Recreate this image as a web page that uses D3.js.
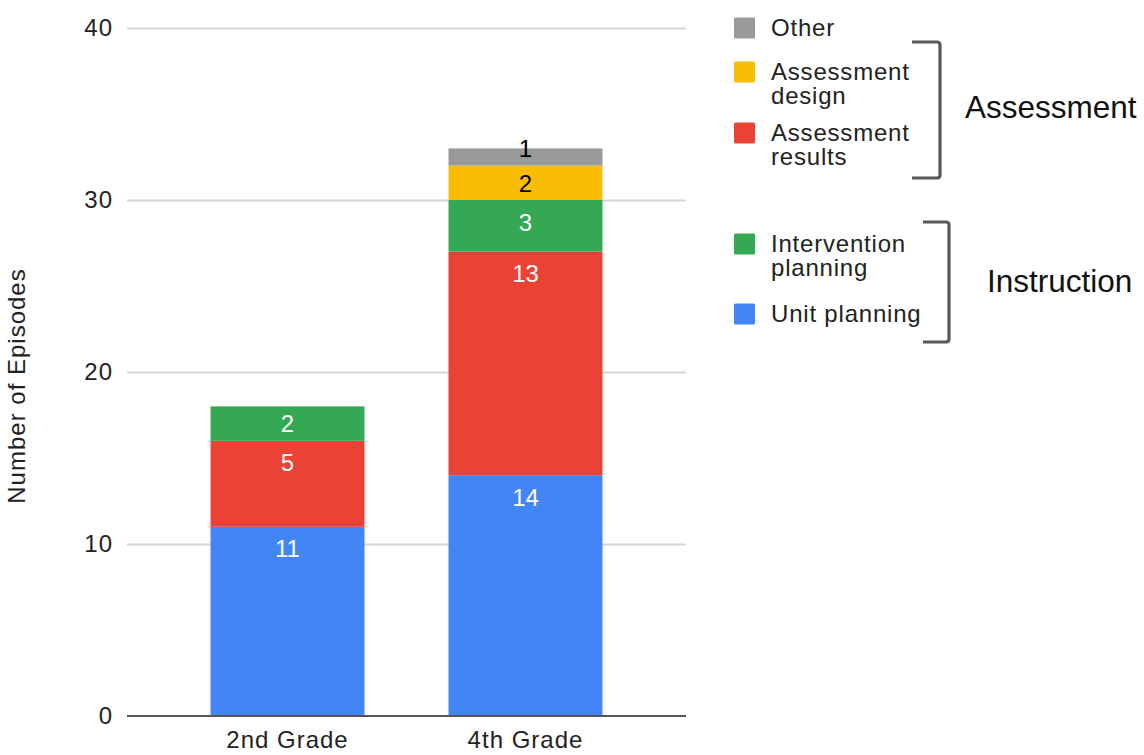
<!DOCTYPE html>
<html>
<head>
<meta charset="utf-8">
<script src="https://cdn.jsdelivr.net/npm/d3@7/dist/d3.min.js"></script>
<style>
  html, body { margin: 0; padding: 0; background: #fff; }
  svg { display: block; }
  text { font-family: Arial, "Liberation Sans", Helvetica, sans-serif; }
</style>
</head>
<body>
<svg id="chart" width="1144" height="755"></svg>
<script>
// Episodes by grade, stacked by episode type (bottom to top)
const grades = ["2nd Grade", "4th Grade"];
const seriesNames = ["Unit planning", "Assessment results", "Intervention planning", "Assessment design", "Other"];
const unitPlanning = [11, 14];
const assessmentResults = [5, 13];
const interventionPlanning = [2, 3];
const assessmentDesign = [0, 2];
const other = [0, 1];
const yTicks = [0, 10, 20, 30, 40];

const seriesColors = ["#4285F4", "#EA4335", "#34A853", "#FBBC04", "#999999"];
const labelColors = ["#ffffff", "#ffffff", "#ffffff", "#000000", "#000000"];

// Legend listing (top to bottom) and the two bracket groups
const legendOrder = ["Other", "Assessment design", "Assessment results", "Intervention planning", "Unit planning"];
const legendLines = {
  "Other": ["Other"],
  "Assessment design": ["Assessment", "design"],
  "Assessment results": ["Assessment", "results"],
  "Intervention planning": ["Intervention", "planning"],
  "Unit planning": ["Unit planning"]
};
const groupNames = ["Assessment", "Instruction"];

const seriesValues = [unitPlanning, assessmentResults, interventionPlanning, assessmentDesign, other];
const rows = grades.map((g, i) => {
  const r = { grade: g };
  seriesNames.forEach((s, k) => { r[s] = seriesValues[k][i]; });
  return r;
});

const svg = d3.select("#chart");
const plot = { left: 127, right: 686, top: 28, bottom: 716 };

const x = d3.scaleBand()
  .domain(grades)
  .range([plot.left, plot.right])
  .paddingInner(0.353)
  .paddingOuter(0.351);

const y = d3.scaleLinear()
  .domain([0, 40])
  .range([plot.bottom, plot.top]);

// Gridlines
svg.append("g")
  .selectAll("line")
  .data(yTicks.filter(t => t !== 0))
  .join("line")
  .attr("x1", plot.left)
  .attr("x2", plot.right)
  .attr("y1", d => Math.round(y(d)) + 0.5)
  .attr("y2", d => Math.round(y(d)) + 0.5)
  .attr("stroke", "#d6d6d6")
  .attr("stroke-width", 2);

// Y axis labels
const yAxis = d3.axisLeft(y).tickValues(yTicks).tickSize(0).tickPadding(14);
const yg = svg.append("g")
  .attr("transform", `translate(${plot.left},0)`)
  .call(yAxis);
yg.select(".domain").remove();
yg.selectAll("text")
  .attr("font-size", 24)
  .attr("letter-spacing", "1px")
  .attr("font-family", "Arial, 'Liberation Sans', sans-serif")
  .attr("fill", "#222");

// Stacked bars
const stack = d3.stack().keys(seriesNames);
const stacked = stack(rows);

const layers = svg.append("g")
  .selectAll("g")
  .data(stacked)
  .join("g")
  .attr("fill", (d, i) => seriesColors[i]);

layers.selectAll("rect")
  .data(d => d.map(v => ({ v, key: d.key })))
  .join("rect")
  .attr("x", d => x(d.v.data.grade))
  .attr("width", x.bandwidth())
  .attr("y", d => y(d.v[1]))
  .attr("height", d => y(d.v[0]) - y(d.v[1]));

// Baseline
svg.append("line")
  .attr("x1", plot.left)
  .attr("x2", plot.right)
  .attr("y1", y(0))
  .attr("y2", y(0))
  .attr("stroke", "#555")
  .attr("stroke-width", 2);

// Value labels inside the segments
stacked.forEach((layer, k) => {
  layer.forEach(v => {
    const val = v[1] - v[0];
    if (!val) return;
    const top = y(v[1]), bottom = y(v[0]);
    const cy = Math.min(top + 22, bottom - 17);
    svg.append("text")
      .attr("x", x(v.data.grade) + x.bandwidth() / 2)
      .attr("y", cy)
      .attr("dy", "0.36em")
      .attr("text-anchor", "middle")
      .attr("font-family", "Roboto, Arial, sans-serif")
      .attr("font-size", 24)
      .attr("fill", labelColors[k])
      .text(val);
  });
});

// Category labels
svg.append("g")
  .selectAll("text")
  .data(grades)
  .join("text")
  .attr("x", d => x(d) + x.bandwidth() / 2)
  .attr("y", 748)
  .attr("text-anchor", "middle")
  .attr("font-size", 24)
  .attr("letter-spacing", "1px")
  .attr("fill", "#222")
  .text(d => d);

// Y axis title
svg.append("text")
  .attr("transform", "translate(25,386) rotate(-90)")
  .attr("text-anchor", "middle")
  .attr("font-size", 24)
  .attr("letter-spacing", "1px")
  .attr("fill", "#222")
  .text("Number of Episodes");

// Legend: swatch plus a (possibly wrapped) label
const legendBaselines = [36, 80, 141, 252, 322];
const legend = svg.append("g");
legendOrder.forEach((name, i) => {
  const k = seriesNames.indexOf(name);
  const base = legendBaselines[i];
  legend.append("rect")
    .attr("x", 734)
    .attr("y", base - 18.5)
    .attr("width", 21)
    .attr("height", 21)
    .attr("rx", 1.5)
    .attr("fill", seriesColors[k]);
  const t = legend.append("text")
    .attr("x", 771)
    .attr("y", base)
    .attr("font-size", 24)
    .attr("letter-spacing", "0.8px")
    .attr("fill", "#222");
  legendLines[name].forEach((line, j) => {
    t.append("tspan")
      .attr("x", 771)
      .attr("dy", j === 0 ? 0 : 24)
      .text(line);
  });
});

// Group brackets and labels
const brackets = [
  { x0: 912, x1: 940, y0: 42, y1: 178, label: groupNames[0], lx: 965, ly: 118 },
  { x0: 923, x1: 949, y0: 222, y1: 342, label: groupNames[1], lx: 987, ly: 292 }
];
brackets.forEach(b => {
  svg.append("path")
    .attr("d", `M${b.x0},${b.y0} H${b.x1 - 3} Q${b.x1},${b.y0} ${b.x1},${b.y0 + 3} V${b.y1 - 3} Q${b.x1},${b.y1} ${b.x1 - 3},${b.y1} H${b.x0}`)
    .attr("fill", "none")
    .attr("stroke", "#595959")
    .attr("stroke-width", 3.2);
  svg.append("text")
    .attr("x", b.lx)
    .attr("y", b.ly)
    .attr("font-size", 31.5)
    .attr("fill", "#111")
    .text(b.label);
});
</script>
</body>
</html>
